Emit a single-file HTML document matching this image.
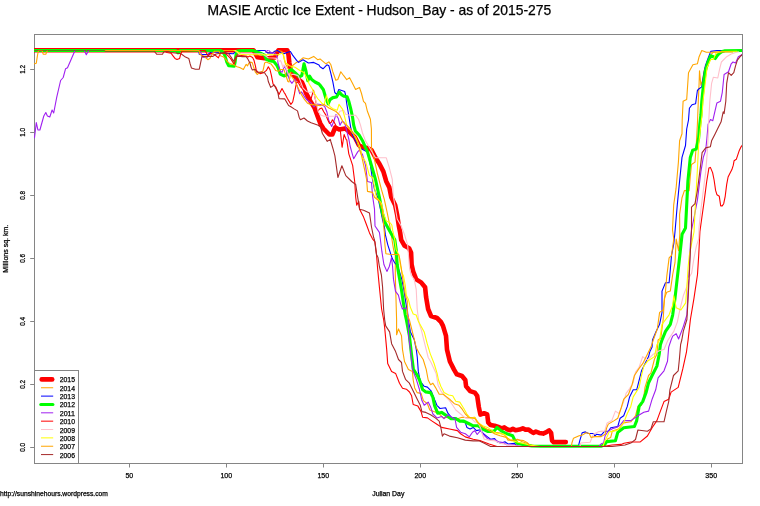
<!DOCTYPE html>
<html><head><meta charset="utf-8"><title>MASIE Arctic Ice Extent - Hudson_Bay</title>
<style>html,body{margin:0;padding:0;background:#fff}svg{display:block}text{font-family:"Liberation Sans",Arial,sans-serif;fill:#000;stroke:#000;stroke-width:.25px}</style></head><body>
<svg width="760" height="506" viewBox="0 0 760 506">
<rect width="760" height="506" fill="#fff"/>
<defs><clipPath id="c"><rect x="34" y="35" width="708" height="428"/></clipPath></defs>
<rect x="34.5" y="34.5" width="708" height="429" fill="none" stroke="#858585" stroke-width="1"/>
<g clip-path="url(#c)" fill="none" stroke-linejoin="round" stroke-linecap="round">
<polyline points="34.5,50.2 253.5,50.2 255.6,54.0 257.5,57.3 264.6,58.2 269.2,58.0 274.7,57.5 276.6,53.8 278.4,50.2 287.4,50.2 288.5,55.0 289.4,63.0 290.4,69.5 292.6,74.2 296.6,78.2 301.8,82.0 304.0,87.0 305.8,92.6 309.6,99.9 314.5,107.8 317.4,115.7 320.4,123.6 323.4,128.5 329.3,134.5 332.3,134.5 335.2,127.5 339.2,129.5 345.1,128.5 349.0,131.5 355.0,137.4 358.9,145.3 362.9,147.3 367.5,148.0 371.5,150.0 375.5,157.8 379.4,163.7 383.4,171.6 386.3,181.5 389.3,187.4 391.3,197.3 395.2,205.2 397.2,215.1 398.7,225.0 400.2,232.9 401.2,239.8 404.6,245.8 409.1,248.2 411.1,252.7 411.6,264.5 413.2,271.5 416.2,279.4 421.1,282.4 425.1,287.3 426.1,297.2 428.1,309.0 431.0,316.0 437.0,318.0 440.9,321.9 443.0,325.9 446.0,335.8 447.0,349.6 449.9,361.5 453.9,369.4 456.8,374.3 462.0,376.0 465.3,380.0 466.1,386.3 470.1,391.1 474.8,392.6 477.2,395.8 478.8,406.9 480.4,414.6 484.0,413.2 487.2,414.5 488.2,422.4 490.5,425.0 494.5,425.7 498.4,427.0 501.7,428.3 504.3,427.4 507.6,429.6 510.3,430.3 512.9,428.9 515.5,430.3 519.5,429.6 522.8,428.3 525.4,429.6 528.7,429.6 531.3,431.6 533.3,432.9 535.9,431.6 539.2,432.9 543.2,433.6 546.4,432.2 549.1,430.3 551.1,432.9 552.1,440.8 553.7,442.1 565.8,442.1" stroke="#ff0000" stroke-width="4.6"/>
<polyline points="34.5,50.5 265.0,50.5 266.2,51.9 267.6,52.9 272.8,52.9 274.8,51.2 278.0,50.5 281.2,51.2 282.6,52.5 283.5,55.7 284.9,62.1 285.5,63.7 288.5,69.6 290.5,74.0 291.4,68.5 292.6,65.5 295.6,63.1 299.2,61.0 303.0,57.8 308.4,59.0 313.7,56.4 317.6,59.7 320.0,58.9 325.9,63.8 328.9,61.9 330.9,64.8 332.8,71.7 335.8,80.3 337.8,79.5 340.8,71.7 343.7,75.7 346.7,79.6 349.6,77.7 352.6,83.6 355.6,89.5 359.5,87.5 361.5,93.5 363.5,101.4 365.5,103.4 367.4,111.3 370.4,119.2 371.4,129.0 371.5,147.9 374.5,159.8 377.4,173.6 381.4,189.4 384.3,199.3 387.3,213.1 389.3,223.0 391.3,234.9 392.8,244.8 393.8,250.7 395.3,255.6 395.3,275.0 396.6,320.0 396.6,334.8 398.5,328.9 401.5,335.8 402.5,349.6 404.5,361.5 408.4,369.4 412.4,371.4 413.2,380.0 414.7,387.9 417.1,392.6 421.1,393.4 423.4,400.6 427.4,403.7 429.8,410.0 433.7,411.6 438.5,413.2 443.2,417.9 447.9,417.2 452.7,418.7 457.4,418.7 462.2,417.2 470.1,417.9 474.8,417.2 477.2,421.1 481.1,425.8 485.9,429.0 490.6,430.6 495.4,432.2 500.1,433.0 504.9,435.3 508.0,440.1 512.8,440.1 517.5,439.3 522.3,441.7 527.0,443.2 530.0,444.8 540.0,446.5 601.2,446.5 605.1,444.5 607.5,439.0 610.7,437.4 612.3,431.1 617.0,429.5 619.0,428.9 623.7,422.9 630.8,421.8 635.5,415.8 637.9,406.4 641.5,405.2 643.8,396.9 645.0,387.4 648.6,375.5 650.9,373.2 654.5,359.0 656.9,354.2 658.1,340.0 660.8,338.0 663.2,319.5 664.4,298.2 666.7,292.3 670.3,291.1 672.7,274.5 675.0,262.7 676.2,239.0 678.6,250.8 679.8,234.2 679.6,214.3 682.0,197.7 684.4,190.6 689.1,190.6 690.3,176.4 691.5,164.5 695.0,162.1 696.2,145.5 697.4,124.2 698.3,101.2 699.1,83.4 699.5,70.9 700.9,85.2 702.7,79.8 704.5,69.1 708.0,60.2 710.7,54.9 713.4,52.2 742.4,50.5" stroke="#ffa500" stroke-width="1.1"/>
<polyline points="34.5,50.5 198.7,50.5 199.3,54.5 207.9,54.5 210.5,52.5 213.0,51.8 223.0,53.0 226.8,53.4 233.3,53.8 235.1,52.0 243.4,50.5 248.0,50.5 265.0,50.5 266.2,51.9 267.6,52.9 272.8,52.9 274.8,51.2 277.5,50.5 280.2,52.4 283.9,53.8 288.5,52.0 290.4,51.5 292.6,55.1 296.6,60.4 298.6,62.4 303.0,59.7 308.4,63.0 313.7,62.4 319.0,65.0 320.0,66.8 323.0,68.8 326.9,64.8 328.9,65.8 330.9,73.7 332.8,81.6 334.8,92.5 336.8,94.5 338.8,89.5 341.7,90.5 344.7,91.5 345.7,95.4 346.7,103.4 348.7,115.2 350.6,127.1 352.6,135.0 355.6,140.9 359.6,148.0 367.5,151.9 370.5,165.7 372.5,179.5 374.5,189.4 378.4,199.3 380.4,209.2 382.4,219.0 384.4,227.0 385.4,234.9 387.8,244.8 390.3,252.7 392.3,258.6 394.5,262.6 397.4,265.6 399.4,271.5 401.8,279.4 403.8,289.3 405.3,299.2 406.9,309.0 408.4,320.0 410.4,331.9 414.3,339.8 416.3,349.6 417.3,357.5 418.3,371.4 420.3,381.3 424.2,386.3 427.4,387.1 431.3,391.1 433.7,397.4 436.9,405.3 440.0,408.5 445.6,407.7 447.9,413.2 451.1,417.2 455.8,417.9 460.6,421.1 465.3,422.7 466.9,427.4 470.1,429.0 473.2,427.4 476.4,430.6 480.4,429.8 483.5,433.8 487.5,436.9 490.6,439.3 494.6,438.5 497.0,441.7 500.9,443.2 504.9,441.7 508.0,444.0 514.3,443.2 517.5,446.5 530.0,446.5 578.3,446.5 579.8,440.6 582.2,432.7 585.4,431.9 588.5,433.5 593.3,433.5 594.9,435.8 596.4,434.3 601.2,435.1 604.7,431.2 608.3,431.2 610.7,427.7 617.8,426.5 620.1,418.2 623.7,415.8 627.3,406.4 629.6,396.9 633.2,389.8 636.7,389.8 639.1,380.3 641.5,370.8 646.2,361.3 648.6,356.6 649.8,351.8 652.1,347.1 652.5,340.0 656.1,331.4 659.6,324.3 662.0,312.4 662.0,291.1 665.5,282.8 669.1,282.8 670.3,269.8 671.5,255.5 673.8,243.7 675.0,231.8 677.3,204.8 679.6,181.1 682.0,157.4 685.5,145.5 686.7,129.0 688.5,120.0 689.4,108.3 692.0,104.7 695.6,103.8 697.4,90.5 699.1,88.7 701.8,86.9 703.6,74.5 705.4,65.6 708.0,58.5 710.7,51.4 716.9,50.5 742.4,50.5" stroke="#0000ff" stroke-width="1.1"/>
<polyline points="34.5,50.5 176.0,50.5 178.0,52.8 180.0,50.5 221.0,50.5 223.7,53.2 225.0,55.7 226.8,62.1 228.7,65.8 234.2,66.2 235.1,62.1 236.0,54.7 237.4,51.0 241.6,50.5 252.6,50.5 257.2,52.0 261.8,53.8 264.6,55.2 266.4,59.3 269.2,60.7 273.8,61.6 276.6,64.9 278.4,68.5 280.2,74.1 283.9,75.9 286.7,75.0 288.5,71.3 291.3,69.5 295.3,72.9 299.2,76.8 301.8,75.5 304.0,63.7 305.8,70.3 307.8,80.8 309.7,76.2 311.7,79.5 315.0,82.0 319.0,84.0 319.9,85.0 323.4,89.7 325.8,98.0 328.2,104.0 330.0,99.6 332.9,97.6 336.5,97.0 339.3,92.0 341.8,95.0 344.2,96.3 347.1,96.8 348.9,101.6 350.7,108.7 352.5,117.0 353.7,125.3 355.4,131.2 359.0,134.8 362.5,140.7 365.1,146.6 367.5,151.9 371.5,165.7 375.5,179.5 379.4,197.3 382.4,213.1 385.3,223.0 390.8,232.9 394.8,239.8 396.2,249.7 397.2,264.5 398.4,272.0 401.4,289.3 403.4,303.1 405.3,315.0 406.4,320.0 409.4,335.8 411.4,353.6 413.4,369.4 417.3,375.3 419.5,380.0 422.6,389.5 425.8,391.9 430.6,392.6 432.9,397.4 434.5,405.3 437.7,413.2 441.6,412.4 446.4,415.6 451.1,418.7 455.8,418.7 459.8,421.1 463.8,421.1 468.5,423.5 473.2,425.8 478.0,425.8 482.7,429.0 487.5,431.4 492.2,431.4 494.6,430.6 497.0,427.4 500.9,430.6 506.3,433.5 512.6,435.8 515.0,440.6 517.4,443.5 525.3,445.0 531.6,446.0 541.0,446.3 601.0,446.3 604.3,445.0 606.7,441.6 615.4,440.7 617.8,432.4 623.7,427.7 634.4,426.5 636.7,420.6 639.1,406.4 642.7,401.6 646.2,392.1 648.6,382.7 652.1,375.5 656.9,366.1 659.2,354.2 660.4,344.7 662.0,340.0 665.5,331.4 670.3,324.3 672.7,314.8 675.0,298.2 677.4,276.9 679.8,255.5 682.1,234.2 685.5,228.0 686.7,204.8 687.9,181.1 690.3,157.4 692.7,150.3 696.2,149.1 698.6,138.4 699.8,124.2 700.9,115.0 701.8,101.2 703.6,83.4 705.4,70.9 708.0,62.0 710.7,55.8 713.4,56.7 715.2,58.5 717.8,54.9 720.0,52.8 722.3,51.5 725.0,50.8 742.4,50.5" stroke="#00ff00" stroke-width="3.1"/>
<polyline points="34.5,137.8 36.3,122.6 37.9,129.9 39.9,130.0 43.8,116.0 45.8,112.5 47.4,116.0 49.8,117.0 52.1,110.0 53.7,113.0 56.7,97.3 60.6,80.5 63.2,77.5 65.6,68.7 67.5,67.7 75.0,50.5" stroke="#a020f0" stroke-width="1.1"/>
<polyline points="84.3,50.5 86.3,54.8 88.7,50.5" stroke="#a020f0" stroke-width="1.1"/>
<polyline points="200.0,50.5 202.6,57.1 206.6,57.8 209.0,55.0 211.8,53.2" stroke="#a020f0" stroke-width="1.1"/>
<polyline points="265.6,52.0 267.6,50.5" stroke="#a020f0" stroke-width="1.1"/>
<polyline points="268.9,50.5 270.2,51.9 272.2,52.9 275.5,53.2 277.4,58.4 278.1,63.7 279.3,67.5 280.2,71.3 282.1,72.2 283.9,67.6 284.9,66.7 286.7,71.3 289.7,80.3 292.0,83.3 295.0,79.1 296.8,85.0 299.8,93.7 301.6,91.9 304.0,96.1 306.8,99.8 310.4,102.2 314.0,106.9 316.9,104.0 320.5,104.5 324.6,106.3 327.0,112.3 328.8,120.5 331.7,126.5 334.1,120.5 335.9,114.6 338.2,118.2 340.0,125.3 341.8,121.7 343.6,121.7 345.4,125.3 347.1,132.4 348.9,139.5 350.1,146.0 351.7,151.9 353.7,158.8 357.7,151.9 359.6,149.9 362.6,154.8 365.6,165.7 367.5,181.5 371.5,182.5 372.5,195.3 374.5,209.2 375.0,226.0 379.4,232.4 380.4,239.8 381.9,251.7 383.9,264.5 386.9,271.4 389.3,266.5 391.5,257.7 392.5,265.6 393.5,279.4 395.5,291.3 398.4,295.2 400.4,303.1 402.4,309.0 405.3,308.0 407.3,309.0 408.3,318.9 408.3,327.0 408.6,335.8 410.4,349.6 412.4,369.4 416.3,379.3 419.3,389.0 421.9,400.6 424.2,405.3 428.2,402.1 430.6,406.9 432.9,414.0 436.9,417.9 441.6,416.4 444.0,418.7 447.9,414.8 451.9,417.2 455.1,419.5 456.6,427.4 460.6,432.2 465.3,433.8 469.3,436.9 472.5,432.2 474.8,430.6 477.2,434.5 480.4,430.6 483.5,434.5 487.5,438.5 491.4,440.1 495.4,440.1 498.5,441.7 503.3,442.5 506.4,444.8 514.3,444.8 520.7,446.5 540.0,446.5 598.8,446.5 601.2,443.8 603.6,443.0 605.1,435.8 608.3,431.1 612.3,428.7 617.0,427.2 620.1,425.3 623.7,420.6 630.8,420.6 637.9,415.8 643.8,412.3 648.6,411.1 652.1,399.2 655.7,389.8 658.1,377.9 664.0,370.8 667.5,361.3 668.7,347.1 671.1,340.0 672.7,336.1 676.2,333.7 678.6,339.0 683.3,326.6 686.9,314.8 688.1,291.1 689.3,267.4 690.4,243.7 691.5,230.0 693.8,219.0 697.4,200.1 698.6,190.6 700.9,171.6 703.3,157.4 705.7,150.3 706.9,138.4 708.1,124.2 710.4,119.5 712.8,120.7 715.2,110.1 716.9,102.9 720.5,101.2 722.3,92.3 724.1,74.5 728.5,71.8 731.2,63.8 733.0,62.0 735.6,62.9 738.3,56.7 742.4,54.5" stroke="#a020f0" stroke-width="1.1"/>
<polyline points="165.0,50.5 167.0,52.5 171.0,53.2 173.0,55.8 175.0,58.4 177.0,59.5 179.6,58.4 181.0,53.2 182.0,51.2 205.0,50.5 208.0,55.8 210.5,53.2 214.5,54.5 218.4,57.8 220.4,53.2 223.7,53.2 225.0,52.9 227.8,55.7 230.5,58.4 233.3,63.0 234.2,63.9 236.0,58.4 237.4,54.7 239.7,55.2 243.4,55.7 246.2,56.1 248.0,57.0 249.9,56.1 252.6,57.5 254.0,60.3 255.4,65.8 256.3,70.4 258.1,72.2 260.0,73.6 263.7,72.7 266.4,70.4 268.3,66.7 270.0,69.6 271.5,75.9 273.0,83.9 276.0,87.4 279.0,94.6 282.0,88.6 284.3,92.8 285.0,93.7 287.4,98.5 290.9,104.4 292.7,102.0 294.5,93.7 295.7,86.6 296.9,81.9 298.6,83.0 300.4,86.6 302.8,89.0 305.8,91.9 308.7,97.3 310.5,100.8 313.5,90.2 314.7,96.1 316.4,104.4 317.6,111.5 319.4,109.1 321.8,108.0 323.6,111.5 325.9,115.1 327.7,119.8 329.5,123.4 331.3,122.2 332.4,119.8 334.2,122.2 336.0,125.8 337.8,128.1 340.2,129.5 342.1,147.3 344.1,134.5 346.1,139.4 346.8,140.0 348.8,153.8 352.7,165.7 354.7,181.5 355.7,197.3 356.7,205.2 358.7,201.3 359.6,209.2 363.6,217.1 366.6,225.0 369.5,232.9 372.5,238.8 375.0,241.8 376.5,254.6 377.7,269.5 379.6,289.3 381.6,309.0 383.7,320.0 384.7,327.9 386.7,349.6 387.7,363.5 391.6,371.4 395.6,373.4 399.5,383.2 402.5,388.2 406.4,389.2 409.5,392.0 411.6,395.8 413.2,404.5 417.9,406.1 421.1,411.6 422.6,417.2 427.4,417.9 432.1,421.1 436.9,424.3 441.6,427.4 449.5,429.0 457.4,430.6 460.6,433.8 465.3,436.9 473.2,439.3 481.1,440.9 489.1,444.0 497.0,446.5 508.0,446.5 603.0,446.5 612.0,445.0 621.0,444.4 624.0,443.3 630.8,442.0 640.3,441.9 647.4,436.0 652.1,427.7 656.9,420.6 660.4,411.1 664.0,401.6 668.7,399.2 671.1,392.1 678.2,387.4 682.9,368.4 686.5,351.8 688.1,340.0 690.4,319.5 694.0,298.2 697.5,274.5 698.7,255.5 699.9,231.8 702.2,215.0 704.4,199.3 706.7,181.5 708.9,168.1 710.4,167.4 712.6,172.6 714.1,180.0 715.6,190.4 717.0,194.8 719.3,196.3 720.7,205.9 722.2,205.9 723.7,203.7 725.2,196.3 726.7,184.4 728.1,177.0 729.6,174.1 731.9,169.6 733.3,165.2 734.1,160.7 736.3,159.3 737.8,154.8 739.3,150.4 740.7,147.4 742.4,145.0" stroke="#ff0000" stroke-width="1.1"/>
<polyline points="235.5,50.5 238.0,53.0 240.0,53.6 262.0,53.8 265.0,55.5 268.2,57.8 273.0,58.0 276.8,58.4 278.8,61.5 280.5,60.5 281.6,63.0 283.0,67.6 283.9,64.9 285.5,66.7 288.5,74.4 294.0,74.4 298.0,75.6 300.0,80.0 303.0,88.0 306.4,91.4 309.9,92.5 312.9,91.4 314.7,96.1 317.0,105.6 318.2,111.5 320.6,115.1 324.1,116.3 333.8,116.2 337.8,115.2 339.8,111.3 343.7,110.3 345.7,114.2 349.6,115.2 355.6,115.2 358.5,119.2 360.5,125.1 362.5,133.0 365.5,140.9 375.5,157.8 386.3,157.8 389.3,167.7 392.3,179.5 393.2,195.3 397.2,219.0 401.2,226.0 404.6,234.9 407.6,244.8 409.6,268.5 411.3,275.5 414.2,279.4 416.2,289.3 417.2,309.0 418.2,317.0 419.3,324.0 421.3,329.9 425.2,345.7 428.2,357.5 431.1,362.5 436.1,373.4 438.1,385.2 441.0,391.1 444.8,395.8 449.5,400.6 452.7,405.3 455.8,410.0 460.6,414.0 465.3,417.9 471.7,418.7 474.8,421.9 478.0,422.7 480.4,427.4 482.7,435.3 484.3,439.3 489.1,440.1 495.4,440.9 500.1,443.2 508.0,444.8 520.7,446.5 540.0,446.5 580.0,446.5 580.6,443.0 590.1,442.2 591.7,438.2 593.3,434.3 598.0,431.9 602.0,431.1 604.7,431.2 607.1,422.9 611.8,420.6 615.4,411.1 619.0,413.5 623.7,401.6 626.1,393.3 629.6,388.6 633.2,382.7 635.5,372.0 639.1,367.3 642.7,356.6 647.4,360.1 653.3,354.2 659.2,350.7 664.0,349.5 668.0,340.0 673.8,331.4 677.4,321.9 679.8,310.0 683.3,295.8 686.9,286.4 688.1,279.2 691.6,273.3 694.0,257.9 696.4,246.1 698.7,239.0 699.0,228.0 700.9,209.5 703.3,190.6 705.7,171.6 706.9,157.4 708.1,138.4 708.6,124.2 709.8,101.2 711.6,83.4 713.4,77.2 717.8,78.0 719.6,69.1 721.4,62.0 726.7,56.7 731.2,54.0 736.5,52.2 738.5,51.8" stroke="#ffc0cb" stroke-width="1.1"/>
<polyline points="234.0,50.5 237.9,52.0 240.7,54.3 246.2,54.7 278.4,54.7 282.1,52.9 283.5,54.7 284.4,59.3 285.8,63.0 289.5,65.8 295.0,67.2 300.3,70.8 304.0,72.4 307.5,79.5 309.3,84.2 312.3,89.0 314.7,93.7 317.6,98.5 321.8,103.2 324.1,105.0 325.3,99.7 326.5,95.5 328.3,103.2 330.1,106.8 333.6,109.1 337.2,110.3 339.0,104.4 340.8,106.8 342.5,109.1 344.7,117.2 346.7,125.1 349.6,129.0 352.6,133.0 355.6,137.0 360.9,149.3 361.6,155.8 365.6,161.7 369.5,175.6 372.5,177.5 374.5,187.4 376.4,197.3 381.4,203.2 383.4,213.1 386.3,221.0 390.3,223.0 391.8,225.0 392.8,230.9 394.8,239.8 396.2,249.7 398.7,254.6 400.2,264.5 402.2,273.4 403.4,275.5 405.3,285.3 406.3,295.2 408.3,299.2 410.3,307.1 413.2,314.0 416.2,315.0 418.2,320.9 424.2,331.9 427.2,343.7 430.2,353.6 434.1,363.5 437.1,373.4 438.5,380.0 440.8,386.3 444.0,392.6 448.7,395.0 452.7,395.8 455.8,401.3 459.8,402.1 463.8,408.5 466.9,414.0 470.1,417.9 474.8,417.9 478.0,422.7 482.7,425.8 487.5,427.4 492.2,430.6 495.4,433.0 500.1,433.8 504.9,434.5 508.0,438.5 512.8,440.9 519.1,442.5 525.4,444.0 530.0,445.1 540.0,446.5 602.8,446.5 605.1,440.6 607.5,435.8 609.1,431.9 613.8,431.1 617.8,430.0 621.3,425.3 623.7,422.9 627.3,413.5 630.8,406.4 633.2,396.9 639.1,387.4 641.5,375.5 643.8,366.1 647.4,361.3 654.5,356.6 656.9,344.7 659.6,340.0 662.0,324.3 669.1,314.8 672.7,305.3 673.8,295.8 676.2,307.7 680.9,310.0 685.7,302.9 686.9,286.4 688.1,267.4 689.3,255.5 691.6,243.7 694.0,232.0 695.0,211.9 696.2,190.6 697.4,169.2 698.6,145.5 700.9,124.2 702.0,115.0 703.0,101.0 705.0,85.0 707.1,67.4 710.7,59.4 713.4,59.4 716.0,53.1 722.0,51.5 737.0,51.2" stroke="#ffff00" stroke-width="1.1"/>
<polyline points="34.5,63.7 36.3,63.2 37.4,55.8 38.4,50.5 42.1,50.5 43.2,54.2 45.8,54.2 47.4,50.5" stroke="#ffa500" stroke-width="1.1"/>
<polyline points="105.0,50.5 199.0,50.5 200.0,54.5 202.6,55.8 206.0,57.8 207.9,59.7 209.9,58.4 211.8,54.5 214.5,51.2 219.0,51.2 220.4,55.8 223.7,57.1 225.0,58.4 227.8,62.1 230.5,63.9 234.2,64.9 237.0,66.7 239.7,67.6 243.4,69.5 244.8,66.7 246.2,64.4 247.6,65.8 248.9,63.0 250.3,62.1 252.2,62.6 253.5,66.7 255.4,72.2 257.2,74.5 260.0,72.2 262.8,71.3 263.7,67.6 264.6,63.0 266.0,62.1 271.0,63.9 273.8,67.6 275.6,70.4 278.4,71.3 280.2,69.5 283.9,69.5 285.5,74.4 287.9,81.5 289.0,82.0 290.5,74.0 292.0,77.0 295.7,82.5 298.0,87.8 301.6,94.9 304.6,99.7 307.5,103.2 310.5,104.4 320.6,105.6 324.1,104.4 328.9,108.0 332.4,109.7 336.0,111.5 339.6,115.1 343.1,122.2 346.1,124.6 351.0,129.5 357.0,141.4 359.6,150.0 361.6,155.8 364.6,169.6 366.6,179.5 367.5,191.4 372.5,192.4 374.5,197.3 379.4,201.3 382.4,209.2 383.4,223.0 384.4,232.9 384.9,244.8 385.9,253.7 389.8,254.2 398.7,254.6 399.7,258.6 401.2,267.5 402.2,275.0 405.3,295.2 407.3,301.1 407.3,315.0 409.4,320.0 413.4,335.8 416.3,347.7 419.3,353.6 423.2,359.5 426.2,369.4 428.2,380.0 430.6,384.7 432.9,383.2 435.3,387.1 439.2,394.2 443.2,394.2 447.2,397.4 450.3,399.8 454.3,403.7 459.0,405.3 462.2,409.2 465.3,414.0 468.5,417.2 474.8,418.5 478.0,423.0 482.7,427.0 487.5,429.5 495.0,434.0 500.0,435.8 506.3,437.4 511.0,440.6 517.4,439.8 523.7,440.6 527.7,443.0 530.0,446.5 540.0,446.5 571.5,446.5 571.9,443.0 573.5,438.2 579.1,435.8 582.2,435.1 586.2,432.7 589.3,433.5 590.9,437.4 594.9,436.6 601.2,436.6 605.1,434.3 606.7,427.9 608.3,424.1 614.2,420.6 617.8,418.2 621.3,407.5 623.7,399.2 628.4,394.5 632.0,385.0 634.4,375.5 639.1,368.4 642.7,363.7 647.4,354.2 650.9,347.1 653.3,340.0 657.3,329.0 659.6,312.4 663.2,310.0 665.5,291.1 666.7,276.9 669.1,257.9 671.5,255.5 673.8,239.0 672.5,230.0 673.7,204.8 676.1,188.2 678.4,162.1 679.6,140.8 682.0,133.7 682.2,120.0 683.1,101.2 686.7,99.4 688.5,72.7 692.9,64.7 697.4,63.8 699.1,56.7 701.8,50.5 706.3,52.2 711.6,52.2 722.3,51.8 732.5,52.0" stroke="#ffa500" stroke-width="1.1"/>
<polyline points="34.5,50.5 104.6,50.5 105.4,51.5 154.6,51.5" stroke="#a52a2a" stroke-width="1.1" stroke-opacity=".6"/>
<polyline points="154.6,51.5 155.3,52.5 156.6,54.2 162.5,54.2 163.8,51.8 168.0,51.5 171.0,52.5 175.0,53.0 181.0,53.8 185.5,57.1 188.8,58.4 190.1,63.7 191.4,67.9 195.4,69.2 199.3,69.2 200.7,62.4 202.0,56.4 204.0,56.4 213.0,56.4 216.0,54.0 222.0,53.0 225.0,52.4 228.7,53.8 231.4,57.5 233.3,61.2 234.7,59.3 236.0,56.6 238.8,56.1 242.5,56.6 246.2,56.6 248.0,59.3 249.9,63.0 251.2,67.6 252.2,69.9 255.4,69.5 256.8,72.2 261.8,72.2 264.6,72.7 266.0,75.0 267.4,76.8 268.3,81.5 270.7,87.4 274.2,85.0 277.8,92.2 279.0,98.7 284.8,98.9 288.6,105.6 290.9,106.8 294.5,109.1 297.5,110.9 299.2,117.4 300.4,119.8 304.0,118.0 307.5,121.0 311.1,122.8 314.7,124.0 318.2,125.2 320.6,127.0 322.4,133.5 327.3,141.4 330.3,139.4 331.0,142.0 333.2,149.3 334.9,155.8 336.2,165.1 337.9,177.5 341.9,165.7 345.8,175.6 351.7,181.5 355.7,184.5 357.7,197.3 359.6,209.2 363.6,210.2 369.5,213.1 371.5,227.0 373.5,236.8 374.5,240.0 376.5,254.6 378.0,257.6 379.4,266.5 381.4,275.0 382.6,287.3 383.6,309.0 384.7,320.0 385.7,325.9 389.6,331.9 391.6,343.7 395.6,351.6 398.5,359.5 401.5,362.5 402.5,371.4 405.5,379.3 409.4,383.2 413.2,391.1 417.1,399.0 420.3,405.3 421.9,411.6 425.8,412.4 430.6,414.8 435.3,417.9 439.2,421.1 440.8,427.4 442.4,436.1 444.0,433.8 449.5,436.1 457.4,437.7 465.3,440.1 473.2,440.9 479.6,440.9 484.3,443.2 490.6,446.5 498.5,446.5 612.0,446.5 625.0,445.0 630.8,443.1 635.5,439.5 637.9,430.0 647.4,431.2 650.9,428.9 653.3,421.8 664.0,421.8 666.4,411.1 668.7,401.6 669.9,389.8 673.5,375.5 678.2,370.8 679.4,359.0 680.6,344.7 681.8,340.0 683.3,331.4 686.9,319.5 688.1,298.2 689.3,274.5 690.4,250.8 691.5,230.0 691.5,207.2 695.0,203.6 697.4,190.6 699.8,171.6 702.1,152.7 705.7,147.9 710.4,146.7 711.6,140.8 715.2,133.7 717.5,129.0 721.1,121.8 723.2,111.8 724.1,113.6 725.8,101.2 726.7,83.4 728.5,72.7 731.2,75.4 733.8,72.7 735.6,65.6 737.4,60.2 740.1,56.7 742.4,54.5" stroke="#a52a2a" stroke-width="1.1"/>
</g>
<path d="M129.5 463.5 v4 M226.5 463.5 v4 M323.5 463.5 v4 M420.5 463.5 v4 M517.5 463.5 v4 M614.5 463.5 v4 M711.5 463.5 v4 M34.5 447.5 h-4.3 M34.5 384.5 h-4.3 M34.5 321.5 h-4.3 M34.5 258.5 h-4.3 M34.5 195.5 h-4.3 M34.5 132.5 h-4.3 M34.5 69.5 h-4.3" stroke="#858585" stroke-width="1" fill="none"/>
<text x="125.4" y="478.3" font-size="7.6" textLength="7.8" lengthAdjust="spacingAndGlyphs">50</text>
<text x="220.4" y="478.3" font-size="7.6" textLength="11.8" lengthAdjust="spacingAndGlyphs">100</text>
<text x="317.4" y="478.3" font-size="7.6" textLength="11.8" lengthAdjust="spacingAndGlyphs">150</text>
<text x="414.4" y="478.3" font-size="7.6" textLength="11.8" lengthAdjust="spacingAndGlyphs">200</text>
<text x="511.3" y="478.3" font-size="7.6" textLength="11.8" lengthAdjust="spacingAndGlyphs">250</text>
<text x="608.3" y="478.3" font-size="7.6" textLength="11.8" lengthAdjust="spacingAndGlyphs">300</text>
<text x="705.3" y="478.3" font-size="7.6" textLength="11.8" lengthAdjust="spacingAndGlyphs">350</text>
<text transform="translate(24.7 447.4) rotate(-90)" font-size="8" x="-4.4" textLength="8.8" lengthAdjust="spacingAndGlyphs">0.0</text>
<text transform="translate(24.7 384.4) rotate(-90)" font-size="8" x="-4.4" textLength="8.8" lengthAdjust="spacingAndGlyphs">0.2</text>
<text transform="translate(24.7 321.4) rotate(-90)" font-size="8" x="-4.4" textLength="8.8" lengthAdjust="spacingAndGlyphs">0.4</text>
<text transform="translate(24.7 258.4) rotate(-90)" font-size="8" x="-4.4" textLength="8.8" lengthAdjust="spacingAndGlyphs">0.6</text>
<text transform="translate(24.7 195.4) rotate(-90)" font-size="8" x="-4.4" textLength="8.8" lengthAdjust="spacingAndGlyphs">0.8</text>
<text transform="translate(24.7 132.4) rotate(-90)" font-size="8" x="-4.4" textLength="8.8" lengthAdjust="spacingAndGlyphs">1.0</text>
<text transform="translate(24.7 69.4) rotate(-90)" font-size="8" x="-4.4" textLength="8.8" lengthAdjust="spacingAndGlyphs">1.2</text>
<text x="388.3" y="496.2" font-size="6.9" text-anchor="middle">Julian Day</text>
<text transform="translate(7.8 248.7) rotate(-90)" font-size="7.1" x="-24" textLength="48" lengthAdjust="spacingAndGlyphs">Millions sq. km.</text>
<text x="0" y="496.2" font-size="6.9" textLength="107.9" lengthAdjust="spacingAndGlyphs">http://sunshinehours.wordpress.com</text>
<text x="207.6" y="15.4" font-size="14.2" textLength="343.6" lengthAdjust="spacingAndGlyphs" stroke="none">MASIE Arctic Ice Extent - Hudson_Bay - as of 2015-275</text>
<rect x="34.5" y="370.5" width="44" height="93" fill="#fff" stroke="#858585" stroke-width="1"/>
<line x1="41.7" x2="52.2" y1="379.40" y2="379.40" stroke="#ff0000" stroke-width="4.6" stroke-linecap="round"/>
<text x="59.7" y="382.40" font-size="7.7" stroke-width=".1" textLength="15.3" lengthAdjust="spacingAndGlyphs">2015</text>
<line x1="41.4" x2="52.8" y1="387.75" y2="387.75" stroke="#ffa500" stroke-width="1" stroke-linecap="round"/>
<text x="59.7" y="390.75" font-size="7.7" stroke-width=".1" textLength="15.3" lengthAdjust="spacingAndGlyphs">2014</text>
<line x1="41.4" x2="52.8" y1="396.11" y2="396.11" stroke="#0000ff" stroke-width="1" stroke-linecap="round"/>
<text x="59.7" y="399.11" font-size="7.7" stroke-width=".1" textLength="15.3" lengthAdjust="spacingAndGlyphs">2013</text>
<line x1="40.8" x2="52.9" y1="404.46" y2="404.46" stroke="#00ff00" stroke-width="3.1" stroke-linecap="round"/>
<text x="59.7" y="407.46" font-size="7.7" stroke-width=".1" textLength="15.3" lengthAdjust="spacingAndGlyphs">2012</text>
<line x1="41.4" x2="52.8" y1="412.82" y2="412.82" stroke="#a020f0" stroke-width="1" stroke-linecap="round"/>
<text x="59.7" y="415.82" font-size="7.7" stroke-width=".1" textLength="15.3" lengthAdjust="spacingAndGlyphs">2011</text>
<line x1="41.4" x2="52.8" y1="421.17" y2="421.17" stroke="#ff0000" stroke-width="1" stroke-linecap="round"/>
<text x="59.7" y="424.17" font-size="7.7" stroke-width=".1" textLength="15.3" lengthAdjust="spacingAndGlyphs">2010</text>
<line x1="41.4" x2="52.8" y1="429.53" y2="429.53" stroke="#ffc0cb" stroke-width="1" stroke-linecap="round"/>
<text x="59.7" y="432.53" font-size="7.7" stroke-width=".1" textLength="15.3" lengthAdjust="spacingAndGlyphs">2009</text>
<line x1="41.4" x2="52.8" y1="437.88" y2="437.88" stroke="#ffff00" stroke-width="1" stroke-linecap="round"/>
<text x="59.7" y="440.88" font-size="7.7" stroke-width=".1" textLength="15.3" lengthAdjust="spacingAndGlyphs">2008</text>
<line x1="41.4" x2="52.8" y1="446.24" y2="446.24" stroke="#ffa500" stroke-width="1" stroke-linecap="round"/>
<text x="59.7" y="449.24" font-size="7.7" stroke-width=".1" textLength="15.3" lengthAdjust="spacingAndGlyphs">2007</text>
<line x1="41.4" x2="52.8" y1="454.59" y2="454.59" stroke="#a52a2a" stroke-width="1" stroke-linecap="round"/>
<text x="59.7" y="457.59" font-size="7.7" stroke-width=".1" textLength="15.3" lengthAdjust="spacingAndGlyphs">2006</text>
</svg></body></html>
